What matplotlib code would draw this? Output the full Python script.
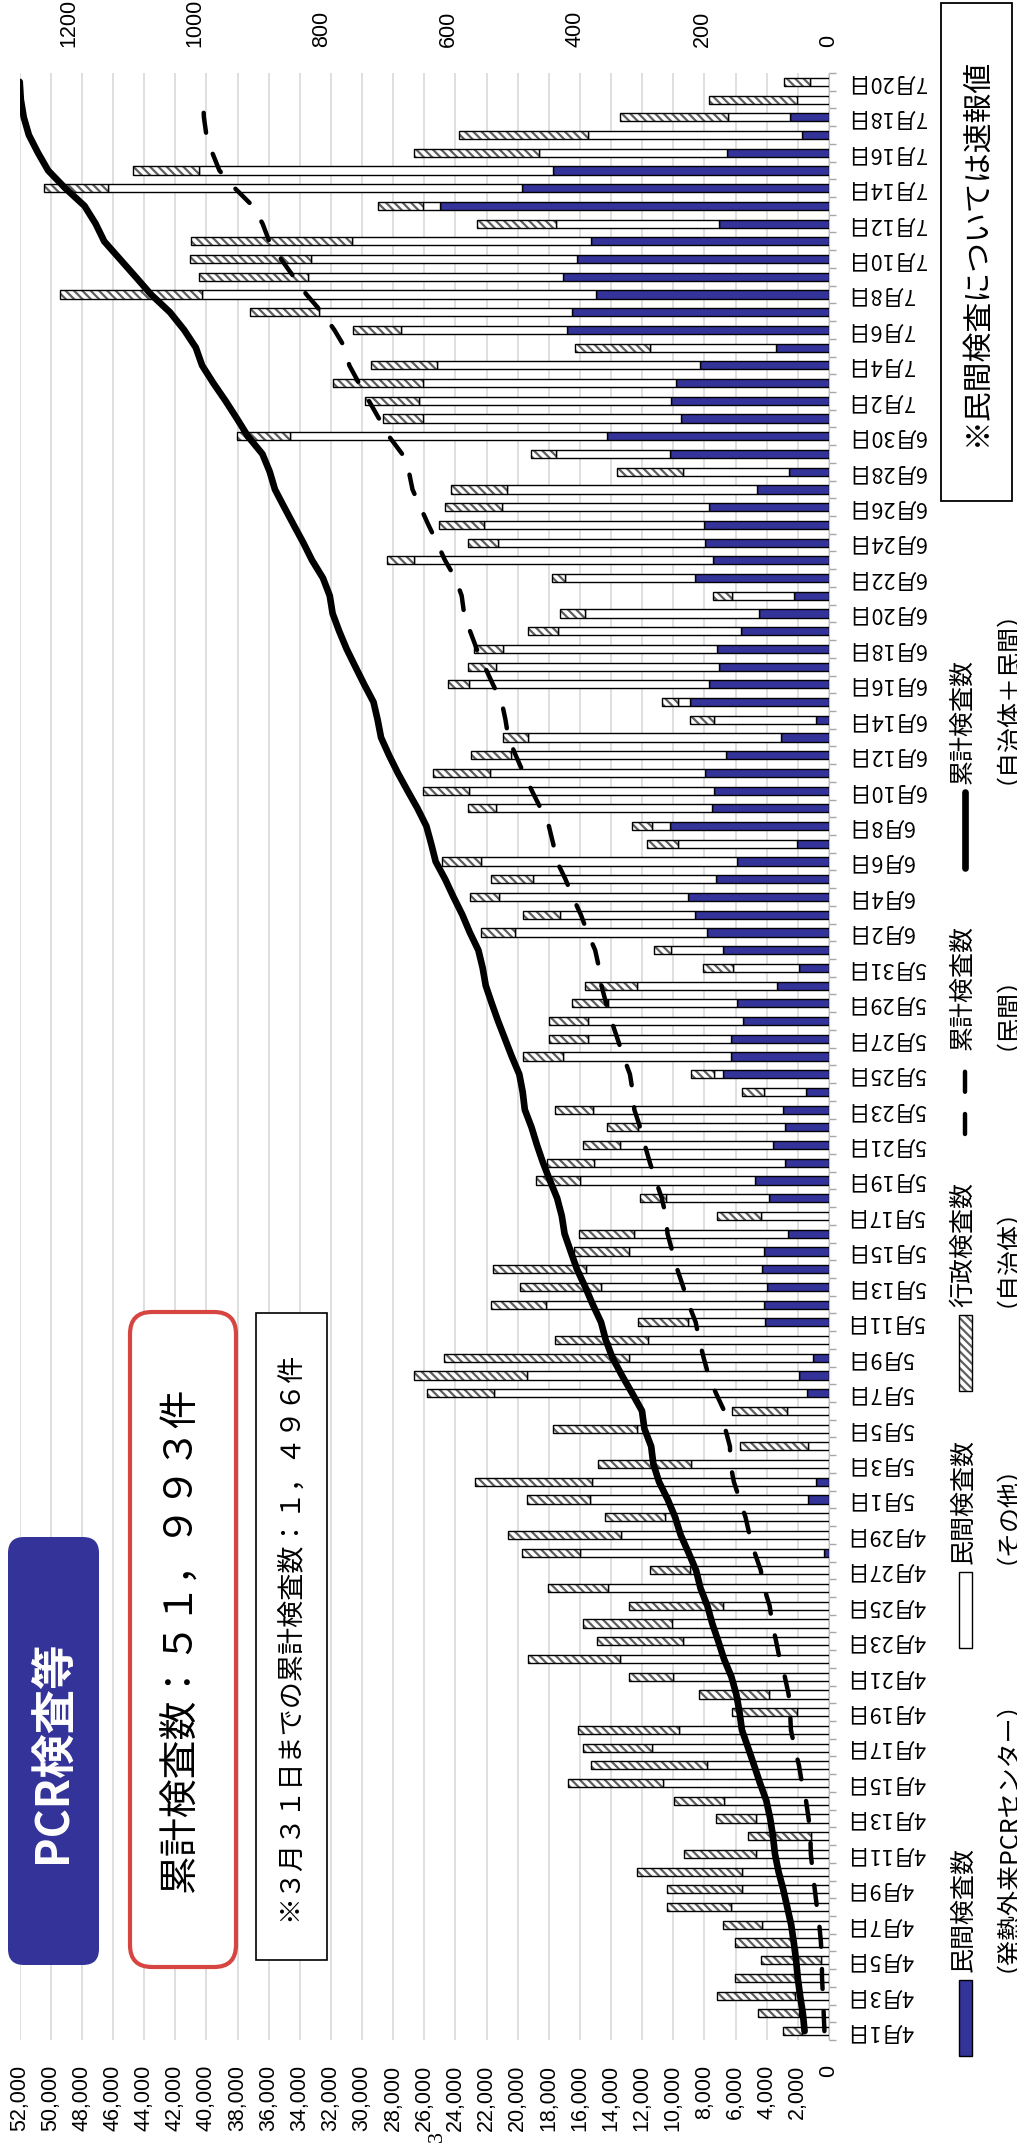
import datetime as dt

import numpy as np
import matplotlib.pyplot as plt
from matplotlib.patches import FancyBboxPatch, Rectangle
from matplotlib.lines import Line2D
from matplotlib.ticker import FuncFormatter

plt.rcParams['font.family'] = ['Noto Sans CJK JP', 'DejaVu Sans']
plt.rcParams['hatch.linewidth'] = 1.6

# 4月1日 - 7月20日
first_day = dt.date(2020, 4, 1)
dates = [first_day + dt.timedelta(days=i) for i in range(111)]
date_labels = [f"{d.month}月{d.day}日" for d in dates]

# 民間検査数（発熱外来PCRセンター）
fever_center = [
    0, 0, 0, 0, 0, 0, 0, 0, 0, 0, 0, 0, 0, 0, 0, 0, 0, 0, 0, 0,
    0, 0, 0, 0, 0, 0, 0, 8, 0, 0,
    33, 21, 0, 0, 0, 0, 35, 48, 25, 0, 101, 102, 98, 105, 102, 65, 0, 94, 117, 70,
    89, 69, 73, 37, 168, 154, 154, 136, 145, 82, 47,
    167, 193, 211, 223, 179, 145, 51, 251, 184, 182, 195, 162, 76, 21, 220, 190, 174, 177, 139, 110,
    56, 212, 183, 195, 197, 189, 114, 63, 251, 350,
    233, 249, 242, 203, 84, 413, 406, 367, 420, 397, 375, 173, 614, 485, 435, 161, 43, 61, 0, 0,
]
# 民間検査数（その他）
private_other = [
    43, 48, 53, 53, 12, 59, 105, 154, 138, 138, 115, 28, 115, 165, 262, 192, 280, 237, 51, 95,
    246, 329, 231, 248, 167, 348, 220, 385, 328, 259,
    344, 353, 218, 33, 303, 66, 494, 429, 290, 285, 122, 345, 261, 278, 214, 243, 107, 163, 276, 301,
    240, 233, 299, 66, 13, 265, 226, 245, 203, 221, 105,
    82, 303, 213, 297, 288, 404, 188, 29, 342, 386, 340, 340, 399, 161, 19, 378, 352, 337, 289, 275,
    97, 204, 471, 327, 348, 327, 394, 168, 180, 501,
    407, 398, 398, 416, 199, 263, 398, 622, 402, 420, 377, 258, 26, 653, 559, 296, 337, 98, 51, 30,
]
# 行政検査数（自治体）
municipal = [
    29, 64, 124, 96, 95, 89, 62, 102, 118, 165, 114, 100, 64, 80, 150, 184, 108, 159, 102, 110,
    70, 146, 135, 140, 148, 95, 62, 91, 179, 95,
    100, 185, 146, 108, 133, 87, 105, 178, 292, 147, 78, 86, 128, 147, 86, 86, 70, 41, 70, 74,
    59, 48, 61, 34, 36, 64, 61, 60, 57, 82, 47,
    27, 53, 58, 47, 66, 62, 48, 31, 43, 72, 89, 63, 39, 38, 24, 33, 43, 46, 47, 39,
    30, 21, 44, 47, 71, 90, 88, 104, 39, 83,
    64, 85, 143, 103, 118, 75, 109, 224, 172, 191, 255, 125, 71, 101, 104, 197, 203, 170, 138, 41,
]
# 累計検査数（自治体＋民間）
cum_total = [
    1568, 1680, 1857, 2006, 2113, 2261, 2428, 2684, 2940, 3243, 3472, 3600, 3779, 4024, 4436,
    4812, 5200, 5596, 5749, 5954, 6270, 6745, 7111, 7499, 7814, 8257, 8539, 9023, 9530, 9884,
    10361, 10920, 11284, 11425, 11861, 12014, 12648, 13303, 13910, 14342, 14643, 15176, 15663,
    16193, 16595, 16989, 17166, 17464, 17927, 18372, 18760, 19110, 19543, 19680, 19897, 20380,
    20821, 21262, 21667, 22052, 22251,
    22527, 23076, 23558, 24125, 24658, 25269, 25556, 25867, 26436, 27076, 27700, 28265, 28779,
    28999, 29262, 29863, 30432, 30992, 31467, 31891, 32074, 32511, 33209, 33778, 34394, 35000,
    35596, 35931, 36401, 37335,
    38039, 38771, 39554, 40276, 40677, 41428, 42341, 43554, 44548, 45556, 46563, 47119, 47830,
    49069, 50167, 50821, 51404, 51733, 51922, 51993,
]
# 累計検査数（民間）  7月19日まで
cum_private = [
    293, 341, 394, 447, 459, 518, 623, 777, 915, 1053, 1168, 1196, 1311, 1476, 1738, 1930, 2210,
    2447, 2498, 2593, 2839, 3168, 3399, 3647, 3814, 4162, 4382, 4775, 5103, 5362,
    5739, 6113, 6331, 6364, 6667, 6733, 7262, 7739, 8054, 8339, 8562, 9009, 9368, 9751, 10067,
    10375, 10482, 10739, 11132, 11503, 11832, 12134, 12506, 12609, 12790, 13209, 13589, 13970,
    14318, 14621, 14773,
    15022, 15518, 15942, 16462, 16929, 17478, 17717, 17997, 18523, 19091, 19626, 20128, 20603,
    20785, 21024, 21592, 22118, 22632, 23060, 23445, 23598, 24014, 24668, 25190, 25735, 26251,
    26759, 26990, 27421, 28272,
    28912, 29559, 30199, 30818, 31101, 31777, 32581, 33570, 34392, 35209, 35961, 36392, 37032,
    38170, 39164, 39621, 40001, 40160, 40211,
]

daily_ticks = list(range(0, 1201, 200))
cum_ticks = list(range(0, 52001, 2000))

BLUE = '#333399'
HATCH_COLOR = '#5f5f5f'
HATCH = '\\\\\\\\'
W, H = 1017, 2156
fig = plt.figure(figsize=(W / 100, H / 100), dpi=100)


def fx(px):
    return px / W


def fy(py):
    return 1 - py / H


def inch_box(x0, y0, x1, y1):
    # pixel box (top-left origin) -> inch coords for dpi_scale_trans
    return (x0 / 100, (H - y1) / 100), (x1 - x0) / 100, (y1 - y0) / 100


# plot area
left, right, top, bottom = 19.6, 829, 73, 2040
rect = [fx(left), fy(bottom), fx(right) - fx(left), (bottom - top) / H]
n = len(dates)
y = np.arange(n)

# cumulative scale: grid + bottom labels + date axis
ax_c = fig.add_axes(rect)
ax_c.set_xlim(52000, 0)
ax_c.set_ylim(-0.5, n - 0.5)
ax_c.set_xticks(cum_ticks)
ax_c.xaxis.set_major_formatter(FuncFormatter(lambda v, p: f"{int(v):,}"))
ax_c.tick_params(axis='x', bottom=True, labelbottom=True, top=False, labeltop=False,
                 length=0, pad=18, labelrotation=90, labelsize=15.5)
for lab in ax_c.get_xticklabels():
    lab.set_family(['Liberation Sans', 'DejaVu Sans'])
ax_c.grid(axis='x', color='#d9d9d9', linewidth=1.2)
ax_c.set_axisbelow(True)

ax_c.yaxis.tick_right()
ax_c.set_yticks(y[::2], date_labels[::2], rotation=180, ha='left', va='center', fontsize=15.5)
ax_c.set_yticks(np.arange(-0.5, n, 1), minor=True)
ax_c.tick_params(axis='y', which='major', length=0, pad=13, right=True, left=False)
ax_c.tick_params(axis='y', which='minor', length=5, width=1, color='#a6a6a6',
                 right=True, left=False)
for side in ['top', 'left', 'bottom']:
    ax_c.spines[side].set_visible(False)
ax_c.spines['right'].set_color('#bfbfbf')

# daily scale: stacked bars
ax_d = ax_c.twiny()
ax_d.set_xlim(1277, 0)
ax_d.set_xticks(daily_ticks)
ax_d.tick_params(axis='x', top=True, labeltop=True, bottom=False, labelbottom=False,
                 length=0, pad=19, labelrotation=90, labelsize=15.5)
for lab in ax_d.get_xticklabels():
    lab.set_family(['Liberation Sans', 'DejaVu Sans'])
for s in ax_d.spines.values():
    s.set_visible(False)

blue = np.array(fever_center)
white = np.array(private_other)
hatched = np.array(municipal)
bh = 0.46
ax_d.barh(y, blue, height=bh, color=BLUE, edgecolor='black', linewidth=1.0)
ax_d.barh(y, white, left=blue, height=bh, color='white', edgecolor='black', linewidth=1.0)
ax_d.barh(y, hatched, left=blue + white, height=bh, color='white', edgecolor=HATCH_COLOR,
          hatch=HATCH, linewidth=0)
ax_d.barh(y, hatched, left=blue + white, height=bh, fill=False, edgecolor='black',
          linewidth=1.0)

# cumulative lines on top of the bars
ax_l = ax_c.twiny()
ax_l.set_xlim(52000, 0)
ax_l.set_xticks([])
for s in ax_l.spines.values():
    s.set_visible(False)
ax_l.plot(cum_total, y, color='black', linewidth=4.8,
          solid_capstyle='round', solid_joinstyle='round')
ax_l.plot(cum_private, y[:len(cum_private)], color='black', linewidth=3.2,
          dashes=(4.5, 5), dash_capstyle='round')

# title and summary boxes
xy, w, h = inch_box(8, 1537, 99, 1965)
fig.add_artist(FancyBboxPatch(xy, w, h, boxstyle='round,pad=0,rounding_size=0.16',
                              transform=fig.dpi_scale_trans, facecolor=BLUE, edgecolor='none'))
fig.text(fx(54), fy(1752), 'PCR検査等', rotation=90, ha='center', va='center',
         color='white', fontsize=32, fontweight='bold')

xy, w, h = inch_box(130, 1312, 236, 1967)
fig.add_artist(FancyBboxPatch(xy, w, h, boxstyle='round,pad=0,rounding_size=0.22',
                              transform=fig.dpi_scale_trans, facecolor='white',
                              edgecolor='#d64541', linewidth=3.0))
fig.text(fx(181), fy(1640), '累計検査数：５１，９９３件', rotation=90,
         ha='center', va='center', fontsize=28)

xy, w, h = inch_box(256, 1313, 327, 1960)
fig.add_artist(Rectangle(xy, w, h, transform=fig.dpi_scale_trans, facecolor='white',
                         edgecolor='black', linewidth=1.2))
fig.text(fx(290), fy(1636), '※３月３１日までの累計検査数：１，４９６件', rotation=90,
         ha='center', va='center', fontsize=19.5)

xy, w, h = inch_box(941, 3, 1012, 501)
fig.add_artist(Rectangle(xy, w, h, transform=fig.dpi_scale_trans, facecolor='white',
                         edgecolor='black', linewidth=1.3))
fig.text(fx(976), fy(252), '※民間検査については速報値', rotation=90,
         ha='center', va='center', fontsize=21.5)

# legend, drawn column-wise along the right edge
legend_items = [
    ('bar', dict(facecolor=BLUE), 1980, '民間検査数', '（発熱外来PCRセンター）'),
    ('bar', dict(facecolor='white'), 1572, '民間検査数', '（その他）'),
    ('hatch', None, 1315, '行政検査数', '（自治体）'),
    ('dash', None, 1058, '累計検査数', '（民間）'),
    ('solid', None, 792, '累計検査数', '（自治体＋民間）'),
]
key_len = 76
key_x = 965
for kind, style, ktop, line1, line2 in legend_items:
    if kind in ('bar', 'hatch'):
        xy, w, h = inch_box(key_x - 6.5, ktop, key_x + 6.5, ktop + key_len)
        if kind == 'bar':
            fig.add_artist(Rectangle(xy, w, h, transform=fig.dpi_scale_trans,
                                     edgecolor='black', linewidth=1.0, **style))
        else:
            fig.add_artist(Rectangle(xy, w, h, transform=fig.dpi_scale_trans,
                                     facecolor='white', edgecolor=HATCH_COLOR,
                                     hatch=HATCH, linewidth=0))
            fig.add_artist(Rectangle(xy, w, h, transform=fig.dpi_scale_trans,
                                     fill=False, edgecolor='black', linewidth=1.0))
    else:
        ln = Line2D([fx(key_x), fx(key_x)], [fy(ktop + key_len), fy(ktop)],
                    transform=fig.transFigure, color='black')
        if kind == 'dash':
            ln.set_linewidth(3.2)
            ln.set_dashes((4.5, 5))
            ln.set_dash_capstyle('round')
        else:
            ln.set_linewidth(4.8)
            ln.set_solid_capstyle('round')
        fig.add_artist(ln)
    fig.text(fx(963), fy(ktop - 8), line1, rotation=90, ha='center', va='bottom', fontsize=18)
    fig.text(fx(994), fy(ktop - 8), line2, rotation=90, ha='center', va='bottom', fontsize=18)

# page number
fig.text(fx(437), fy(2137), '3', rotation=90, ha='center', va='center',
         family=['Liberation Serif', 'DejaVu Serif'], fontsize=16)

fig.savefig('out.png', dpi=100)
